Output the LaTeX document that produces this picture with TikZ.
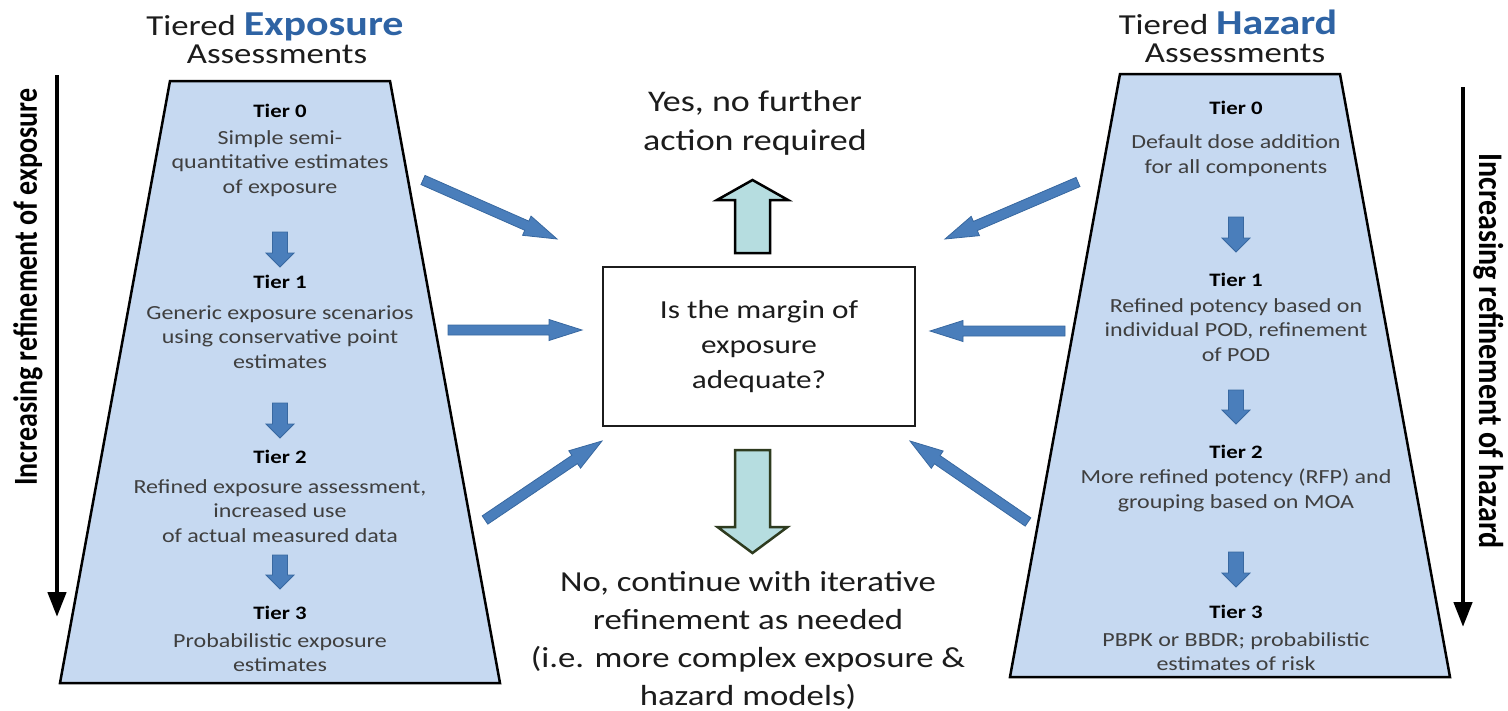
\documentclass[tikz,border=0pt]{standalone}
\usepackage{fontspec}
\usepackage{graphicx}
\setmainfont{Carlito}[FakeStretch=1.2]
\newfontfamily\rotfont{Carlito}
\usetikzlibrary{calc,arrows.meta}
\definecolor{trapfill}{HTML}{C6D9F1}
\definecolor{arrblue}{HTML}{4A7EBB}
\definecolor{arredge}{HTML}{3868A0}
\definecolor{bigteal}{HTML}{B6DDE0}
\definecolor{olivedge}{HTML}{2E3B1F}
\definecolor{titleblue}{HTML}{2E63A4}
\definecolor{txtgray}{HTML}{3F3F3F}
\definecolor{txtdark}{HTML}{1C1C1C}
\newcommand{\fs}[2]{\fontsize{#1}{#2}\selectfont}
% block arrow: style, from, to, shaft half width, head half width, head length
\newcommand{\myblockarrow}[6]{%
  \coordinate (bah) at ($(#3)!#6!(#2)$);
  \draw[#1] ($(#2)!#4!90:(#3)$) -- ($(bah)!#4!90:(#3)$) -- ($(bah)!#5!90:(#3)$) -- (#3)
    -- ($(bah)!#5!-90:(#3)$) -- ($(bah)!#4!-90:(#3)$) -- ($(#2)!#4!-90:(#3)$) -- cycle;}
\tikzset{
  trap/.style={fill=trapfill, draw=black, line width=2.5pt, line join=miter},
  tier/.style={font=\fs{19}{22}\bfseries, text=black, inner sep=0pt},
  desc/.style={font=\fs{20}{24.5}, text=txtgray, align=center, inner sep=0pt},
  smallarr/.style={fill=arrblue, draw=arredge, line width=0.8pt},
  bluearr/.style={fill=arrblue, draw=arredge, line width=0.8pt},
  upteal/.style={fill=bigteal, draw=black, line width=2.5pt},
  downteal/.style={fill=bigteal, draw=olivedge, line width=2.5pt},
  sidearrow/.style={line width=4.5pt, -{Triangle[width=18pt,length=25pt]}},
  rottext/.style={inner sep=0pt, text=black},
  bigtext/.style={font=\fs{30}{39}, text=txtdark, align=center, inner sep=0pt},
}
\begin{document}
\begin{tikzpicture}[x=1pt,y=1pt]
\useasboundingbox (0,0) rectangle (1508,-710);
% trapezoids
\draw[trap] (170,-81) -- (390,-81) -- (500,-683) -- (60,-683) -- cycle;
\draw[trap] (1120,-74) -- (1340,-74) -- (1450,-677) -- (1010,-677) -- cycle;

% titles
\node[anchor=base, inner sep=0pt, text=txtdark] (ltitle) at (275,-35)
  {\fs{29}{30}Tiered \textcolor{titleblue}{\fs{35}{36}\bfseries Exposure}};
\node[anchor=base, inner sep=0pt, text=txtdark] (lsub) at (277,-63.5) {\fs{29}{30}Assessments};
\node[anchor=base, inner sep=0pt, text=txtdark] (rtitle) at (1228,-34)
  {\fs{29}{30}Tiered \textcolor{titleblue}{\fs{35}{36}\bfseries Hazard}};
\node[anchor=base, inner sep=0pt, text=txtdark] (rsub) at (1235,-62) {\fs{29}{30}Assessments};

% side arrows and labels
\coordinate (lvs) at (57,-75);
\coordinate (lve) at (57,-617);
\draw[sidearrow] (lvs) -- (lve);
\node[rottext, rotate=90] (lrot) at (28,-287)
  {\scalebox{1}[1.2]{\rotfont\fs{28}{30}\bfseries Increasing refinement of exposure}};
\coordinate (rvs) at (1463,-87);
\coordinate (rve) at (1463,-627);
\draw[sidearrow] (rvs) -- (rve);
\node[rottext, rotate=-90] (rrot) at (1489,-351)
  {\scalebox{1}[1.15]{\rotfont\fs{30}{32}\bfseries Increasing refinement of hazard}};

% left column
\node[tier] (lt0) at (280,-111) {Tier 0};
\node[desc] (ld0) at (280,-163.5) {Simple semi-\\quantitative estimates\\of exposure};
\node[tier] (lt1) at (280,-282) {Tier 1};
\node[desc] (ld1) at (280,-337) {Generic exposure scenarios\\using conservative point\\estimates};
\node[tier] (lt2) at (280,-457) {Tier 2};
\node[desc] (ld2) at (280,-511) {Refined exposure assessment,\\increased use\\of actual measured data};
\node[tier] (lt3) at (280,-613) {Tier 3};
\node[desc] (ld3) at (280,-652.5) {Probabilistic exposure\\estimates};
\coordinate (la1s) at (280,-232); \coordinate (la1e) at (280,-267);
\coordinate (la2s) at (280,-403); \coordinate (la2e) at (280,-438);
\coordinate (la3s) at (280,-555); \coordinate (la3e) at (280,-589);
\myblockarrow{smallarr}{la1s}{la1e}{7.5pt}{14pt}{14pt}
\myblockarrow{smallarr}{la2s}{la2e}{7.5pt}{14pt}{14pt}
\myblockarrow{smallarr}{la3s}{la3e}{7.5pt}{14pt}{14pt}

% right column
\node[tier] (rt0) at (1236,-108) {Tier 0};
\node[desc] (rd0) at (1236,-155.5) {Default dose addition\\for all components};
\node[tier] (rt1) at (1236,-280) {Tier 1};
\node[desc] (rd1) at (1236,-330) {Refined potency based on\\individual POD, refinement\\of POD};
\node[tier] (rt2) at (1236,-452) {Tier 2};
\node[desc] (rd2) at (1236,-490.5) {More refined potency (RFP) and\\grouping based on MOA};
\node[tier] (rt3) at (1236,-612) {Tier 3};
\node[desc] (rd3) at (1236,-651.5) {PBPK or BBDR; probabilistic\\estimates of risk};
\coordinate (ra1s) at (1236,-217); \coordinate (ra1e) at (1236,-252);
\coordinate (ra2s) at (1236,-390); \coordinate (ra2e) at (1236,-424);
\coordinate (ra3s) at (1236,-552); \coordinate (ra3e) at (1236,-587);
\myblockarrow{smallarr}{ra1s}{ra1e}{7.5pt}{14pt}{14pt}
\myblockarrow{smallarr}{ra2s}{ra2e}{7.5pt}{14pt}{14pt}
\myblockarrow{smallarr}{ra3s}{ra3e}{7.5pt}{14pt}{14pt}

% centre question box
\node[draw=txtdark, line width=2.2pt, minimum width=312pt, minimum height=159pt,
      inner sep=0pt, align=center, font=\fs{26}{35}, text=txtdark] (q) at (759,-346.5)
  {Is the margin of\\exposure\\adequate?};

% outcome texts
\node[bigtext] (yes) at (755,-123) {Yes, no further\\action required};
\node[bigtext, font=\fs{29}{38}] (no) at (748,-640)
  {No, continue with iterative\\refinement as needed\\(i.e. more complex exposure \&\\hazard models)};

% teal arrows
\coordinate (ups) at (752.5,-253); \coordinate (upe) at (752.5,-180);
\myblockarrow{upteal}{ups}{upe}{17.5pt}{35.5pt}{20pt}
\coordinate (dns) at (752.5,-450); \coordinate (dne) at (752.5,-553);
\myblockarrow{downteal}{dns}{dne}{17.5pt}{35pt}{26pt}

% blue connector arrows
\coordinate (b1s) at (423,-180);  \coordinate (b1e) at (557,-239);
\coordinate (b2s) at (448,-330);  \coordinate (b2e) at (582,-330);
\coordinate (b3s) at (485,-520);  \coordinate (b3e) at (602,-441);
\coordinate (b4s) at (1078,-182); \coordinate (b4e) at (945,-239);
\coordinate (b5s) at (1065,-331); \coordinate (b5e) at (930,-331);
\coordinate (b6s) at (1028,-522); \coordinate (b6e) at (910,-441);
\myblockarrow{bluearr}{b1s}{b1e}{5pt}{10.5pt}{33pt}
\myblockarrow{bluearr}{b2s}{b2e}{5pt}{10.5pt}{33pt}
\myblockarrow{bluearr}{b3s}{b3e}{5pt}{10.5pt}{33pt}
\myblockarrow{bluearr}{b4s}{b4e}{5pt}{10.5pt}{33pt}
\myblockarrow{bluearr}{b5s}{b5e}{5pt}{10.5pt}{33pt}
\myblockarrow{bluearr}{b6s}{b6e}{5pt}{10.5pt}{33pt}
\end{tikzpicture}
\end{document}
